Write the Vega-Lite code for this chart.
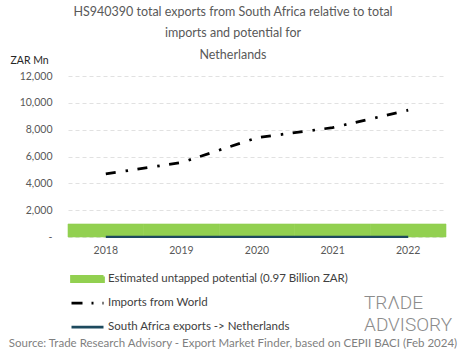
{
  "$schema": "https://vega.github.io/schema/vega-lite/v6.json",
  "width": 378,
  "height": 161,
  "autosize": {"type": "none"},
  "padding": {"left": 68, "top": 76, "right": 19, "bottom": 122},
  "background": "white",
  "config": {
    "font": "Lato",
    "view": {"stroke": null}
  },
  "title": {
    "text": ["HS940390 total exports from South Africa relative to total", "imports and potential for", "Netherlands"],
    "fontSize": 12.5,
    "fontWeight": "normal",
    "color": "#595959",
    "anchor": "middle",
    "dx": -24,
    "lineHeight": 21.5,
    "offset": -6
  },
  "data": {
    "values": [
      {"year": "2018", "series": "Estimated untapped potential (0.97 Billion ZAR)", "value": 970},
      {"year": "2019", "series": "Estimated untapped potential (0.97 Billion ZAR)", "value": 970},
      {"year": "2020", "series": "Estimated untapped potential (0.97 Billion ZAR)", "value": 970},
      {"year": "2021", "series": "Estimated untapped potential (0.97 Billion ZAR)", "value": 970},
      {"year": "2022", "series": "Estimated untapped potential (0.97 Billion ZAR)", "value": 970},
      {"year": "2018", "series": "Imports from World", "value": 4700},
      {"year": "2019", "series": "Imports from World", "value": 5550},
      {"year": "2020", "series": "Imports from World", "value": 7400},
      {"year": "2021", "series": "Imports from World", "value": 8150},
      {"year": "2022", "series": "Imports from World", "value": 9450},
      {"year": "2018", "series": "South Africa exports -> Netherlands", "value": 8},
      {"year": "2019", "series": "South Africa exports -> Netherlands", "value": 7},
      {"year": "2020", "series": "South Africa exports -> Netherlands", "value": 6},
      {"year": "2021", "series": "South Africa exports -> Netherlands", "value": 4},
      {"year": "2022", "series": "South Africa exports -> Netherlands", "value": 2}
    ]
  },
  "encoding": {
    "x": {
      "field": "year",
      "type": "ordinal",
      "scale": {"type": "band", "paddingInner": 0, "paddingOuter": 0},
      "axis": {
        "title": "Source: Trade Research Advisory - Export Market Finder, based on CEPII BACI (Feb 2024)",
        "titleFontSize": 11.5,
        "titleFontWeight": "normal",
        "titleColor": "#7f7f7f",
        "titleX": 164.5,
        "titleY": 106,
        "titleAlign": "center",
        "titleAnchor": null,
        "titleBaseline": "middle",
        "labelAngle": 0,
        "labelFontSize": 10.5,
        "labelColor": "#595959",
        "labelPadding": 8,
        "domain": false,
        "ticks": false,
        "grid": false
      }
    },
    "y": {
      "field": "value",
      "type": "quantitative",
      "scale": {"domain": [0, 12000], "nice": false},
      "axis": {
        "title": "ZAR Mn",
        "titleAngle": 0,
        "titleAlign": "left",
        "titleBaseline": "middle",
        "titleX": -58,
        "titleY": -16,
        "titleFontSize": 10.5,
        "titleFontWeight": "normal",
        "titleColor": "#262626",
        "values": [0, 2000, 4000, 6000, 8000, 10000, 12000],
        "labelExpr": "datum.value == 0 ? '-' : format(datum.value, ',')",
        "labelFontSize": 10.5,
        "labelColor": "#595959",
        "labelPadding": 16,
        "domain": false,
        "ticks": false,
        "grid": true,
        "gridColor": "#d9d9d9",
        "gridDash": [4, 3],
        "gridWidth": 0.8
      }
    },
    "color": {
      "field": "series",
      "type": "nominal",
      "scale": {
        "domain": ["Estimated untapped potential (0.97 Billion ZAR)", "Imports from World", "South Africa exports -> Netherlands"],
        "range": ["#92d050", "#000000", "#1d4a5e"]
      },
      "legend": {
        "orient": "none",
        "legendX": 2,
        "legendY": 195,
        "direction": "vertical",
        "padding": 0,
        "symbolType": "stroke",
        "symbolSize": 1024,
        "symbolStrokeWidth": 2.75,
        "clipHeight": 16,
        "rowPadding": 8,
        "labelFontSize": 11.5,
        "labelColor": "#404040",
        "labelOffset": 3,
        "labelLimit": 400,
        "title": ["TRΛDE", "ADVISORY"],
        "titleOrient": "right",
        "titlePadding": 16,
        "titleFont": "Roboto",
        "titleFontSize": 19,
        "titleFontWeight": 300,
        "titleColor": "#8c8c8c",
        "titleLineHeight": 22,
        "titleAnchor": "end",
        "titleBaseline": "bottom",
        "encode": {
          "symbols": {
            "update": {
              "shape": {"signal": "datum.value == 'Estimated untapped potential (0.97 Billion ZAR)' ? 'M-1,-0.16H1V0.16H-1Z' : 'stroke'"},
              "fill": {"signal": "datum.value == 'Estimated untapped potential (0.97 Billion ZAR)' ? '#92d050' : 'transparent'"},
              "stroke": {"signal": "scale('color', datum.value)"},
              "strokeDash": {"signal": "datum.value == 'Imports from World' ? [11, 9, 2, 9] : [1, 0]"}
            }
          }
        }
      }
    }
  },
  "layer": [
    {
      "transform": [{"filter": "datum.series == 'Estimated untapped potential (0.97 Billion ZAR)'"}],
      "mark": {"type": "bar", "stroke": "#92d050", "strokeWidth": 0.6}
    },
    {
      "transform": [{"filter": "datum.series == 'South Africa exports -> Netherlands'"}],
      "mark": {"type": "line", "strokeWidth": 2.25}
    },
    {
      "transform": [{"filter": "datum.series == 'Imports from World'"}],
      "mark": {"type": "line", "strokeWidth": 2.75, "strokeDash": [10, 10, 2.5, 9.5]}
    }
  ]
}
